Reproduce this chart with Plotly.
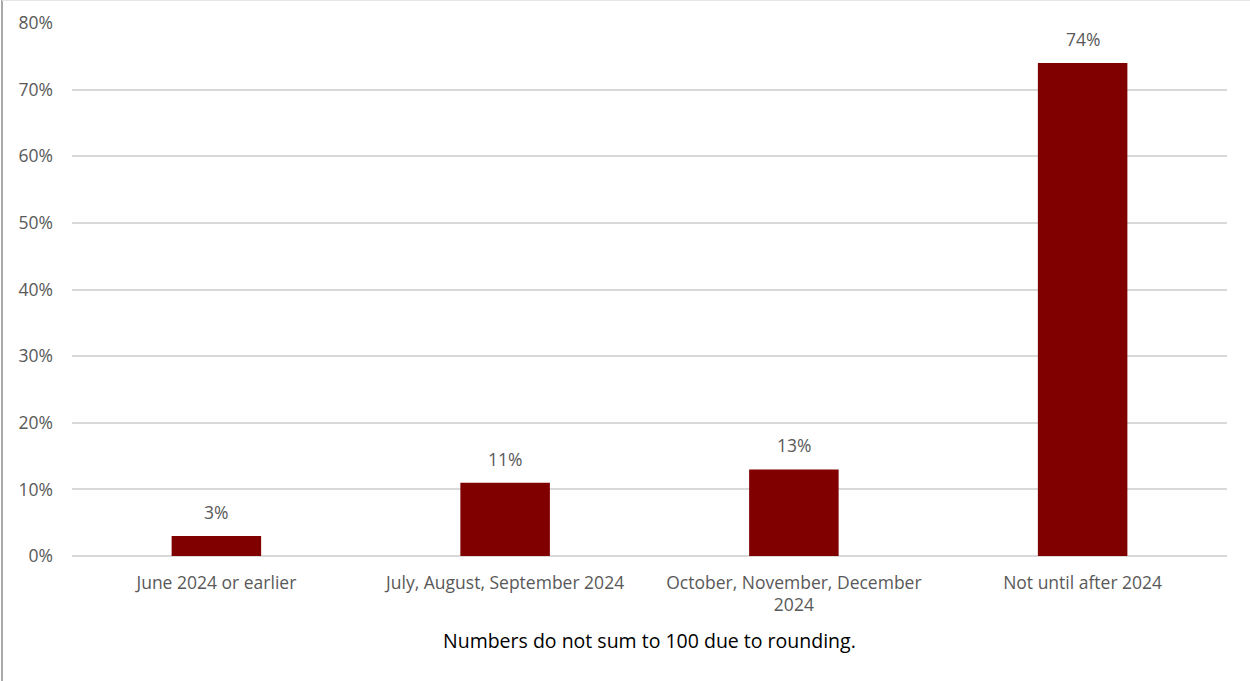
import plotly.graph_objects as go

categories = [
    "June 2024 or earlier",
    "July, August, September 2024",
    "October, November, December<br>2024",
    "Not until after 2024",
]
shares = [3, 11, 13, 74]
y_ticks = [0, 10, 20, 30, 40, 50, 60, 70, 80]
y_tick_labels = [f"{v}%" for v in y_ticks]
footnote = "Numbers do not sum to 100 due to rounding."

FONT = "'Open Sans', sans-serif"
GREY = "#595959"
SIZE = 17.5

fig = go.Figure(
    go.Bar(
        x=categories,
        y=shares,
        width=0.31,
        marker=dict(color="#800000", line=dict(width=0)),
        hoverinfo="skip",
    )
)

# value labels sitting above each bar
value_labels = [
    dict(
        x=c, y=v, xref="x", yref="y",
        text=f"{v}%", showarrow=False,
        yanchor="bottom", yshift=10,
        font=dict(family=FONT, size=SIZE, color=GREY),
    )
    for c, v in zip(categories, shares)
]

fig.update_layout(
    width=1250,
    height=681,
    margin=dict(l=72, r=23, t=23, b=125, autoexpand=False),
    paper_bgcolor="white",
    plot_bgcolor="white",
    showlegend=False,
    font=dict(family=FONT, color=GREY, size=SIZE),
    xaxis=dict(
        showgrid=False,
        showline=False,
        ticks="",
        automargin=False,
        ticklabelstandoff=14,
        tickfont=dict(family=FONT, size=SIZE, color=GREY),
    ),
    yaxis=dict(
        range=[0, 80],
        tickvals=y_ticks,
        ticktext=y_tick_labels,
        showgrid=True,
        gridcolor="#d9d9d9",
        gridwidth=1.5,
        zeroline=True,
        zerolinecolor="#d9d9d9",
        zerolinewidth=1.5,
        ticks="",
        automargin=False,
        ticklabelstandoff=18,
        tickfont=dict(family=FONT, size=SIZE, color=GREY),
    ),
    annotations=value_labels + [
        dict(
            text=footnote,
            xref="paper",
            yref="paper",
            x=0.5,
            y=-0.158,
            xanchor="center",
            yanchor="middle",
            showarrow=False,
            font=dict(family=FONT, size=19.5, color="#000000"),
        )
    ],
    shapes=[
        dict(type="line", xref="paper", yref="paper",
             x0=-70 / 1155, x1=-70 / 1155, y0=-125 / 533, y1=23 / 533 + 1,
             line=dict(color="#8c8c8c", width=1.5)),
        dict(type="line", xref="paper", yref="paper",
             x0=-70 / 1155, x1=1 + 23 / 1155, y0=1 + 22.5 / 533, y1=1 + 22.5 / 533,
             line=dict(color="#e6e6e6", width=1)),
    ],
)

fig.write_html("out.html")
